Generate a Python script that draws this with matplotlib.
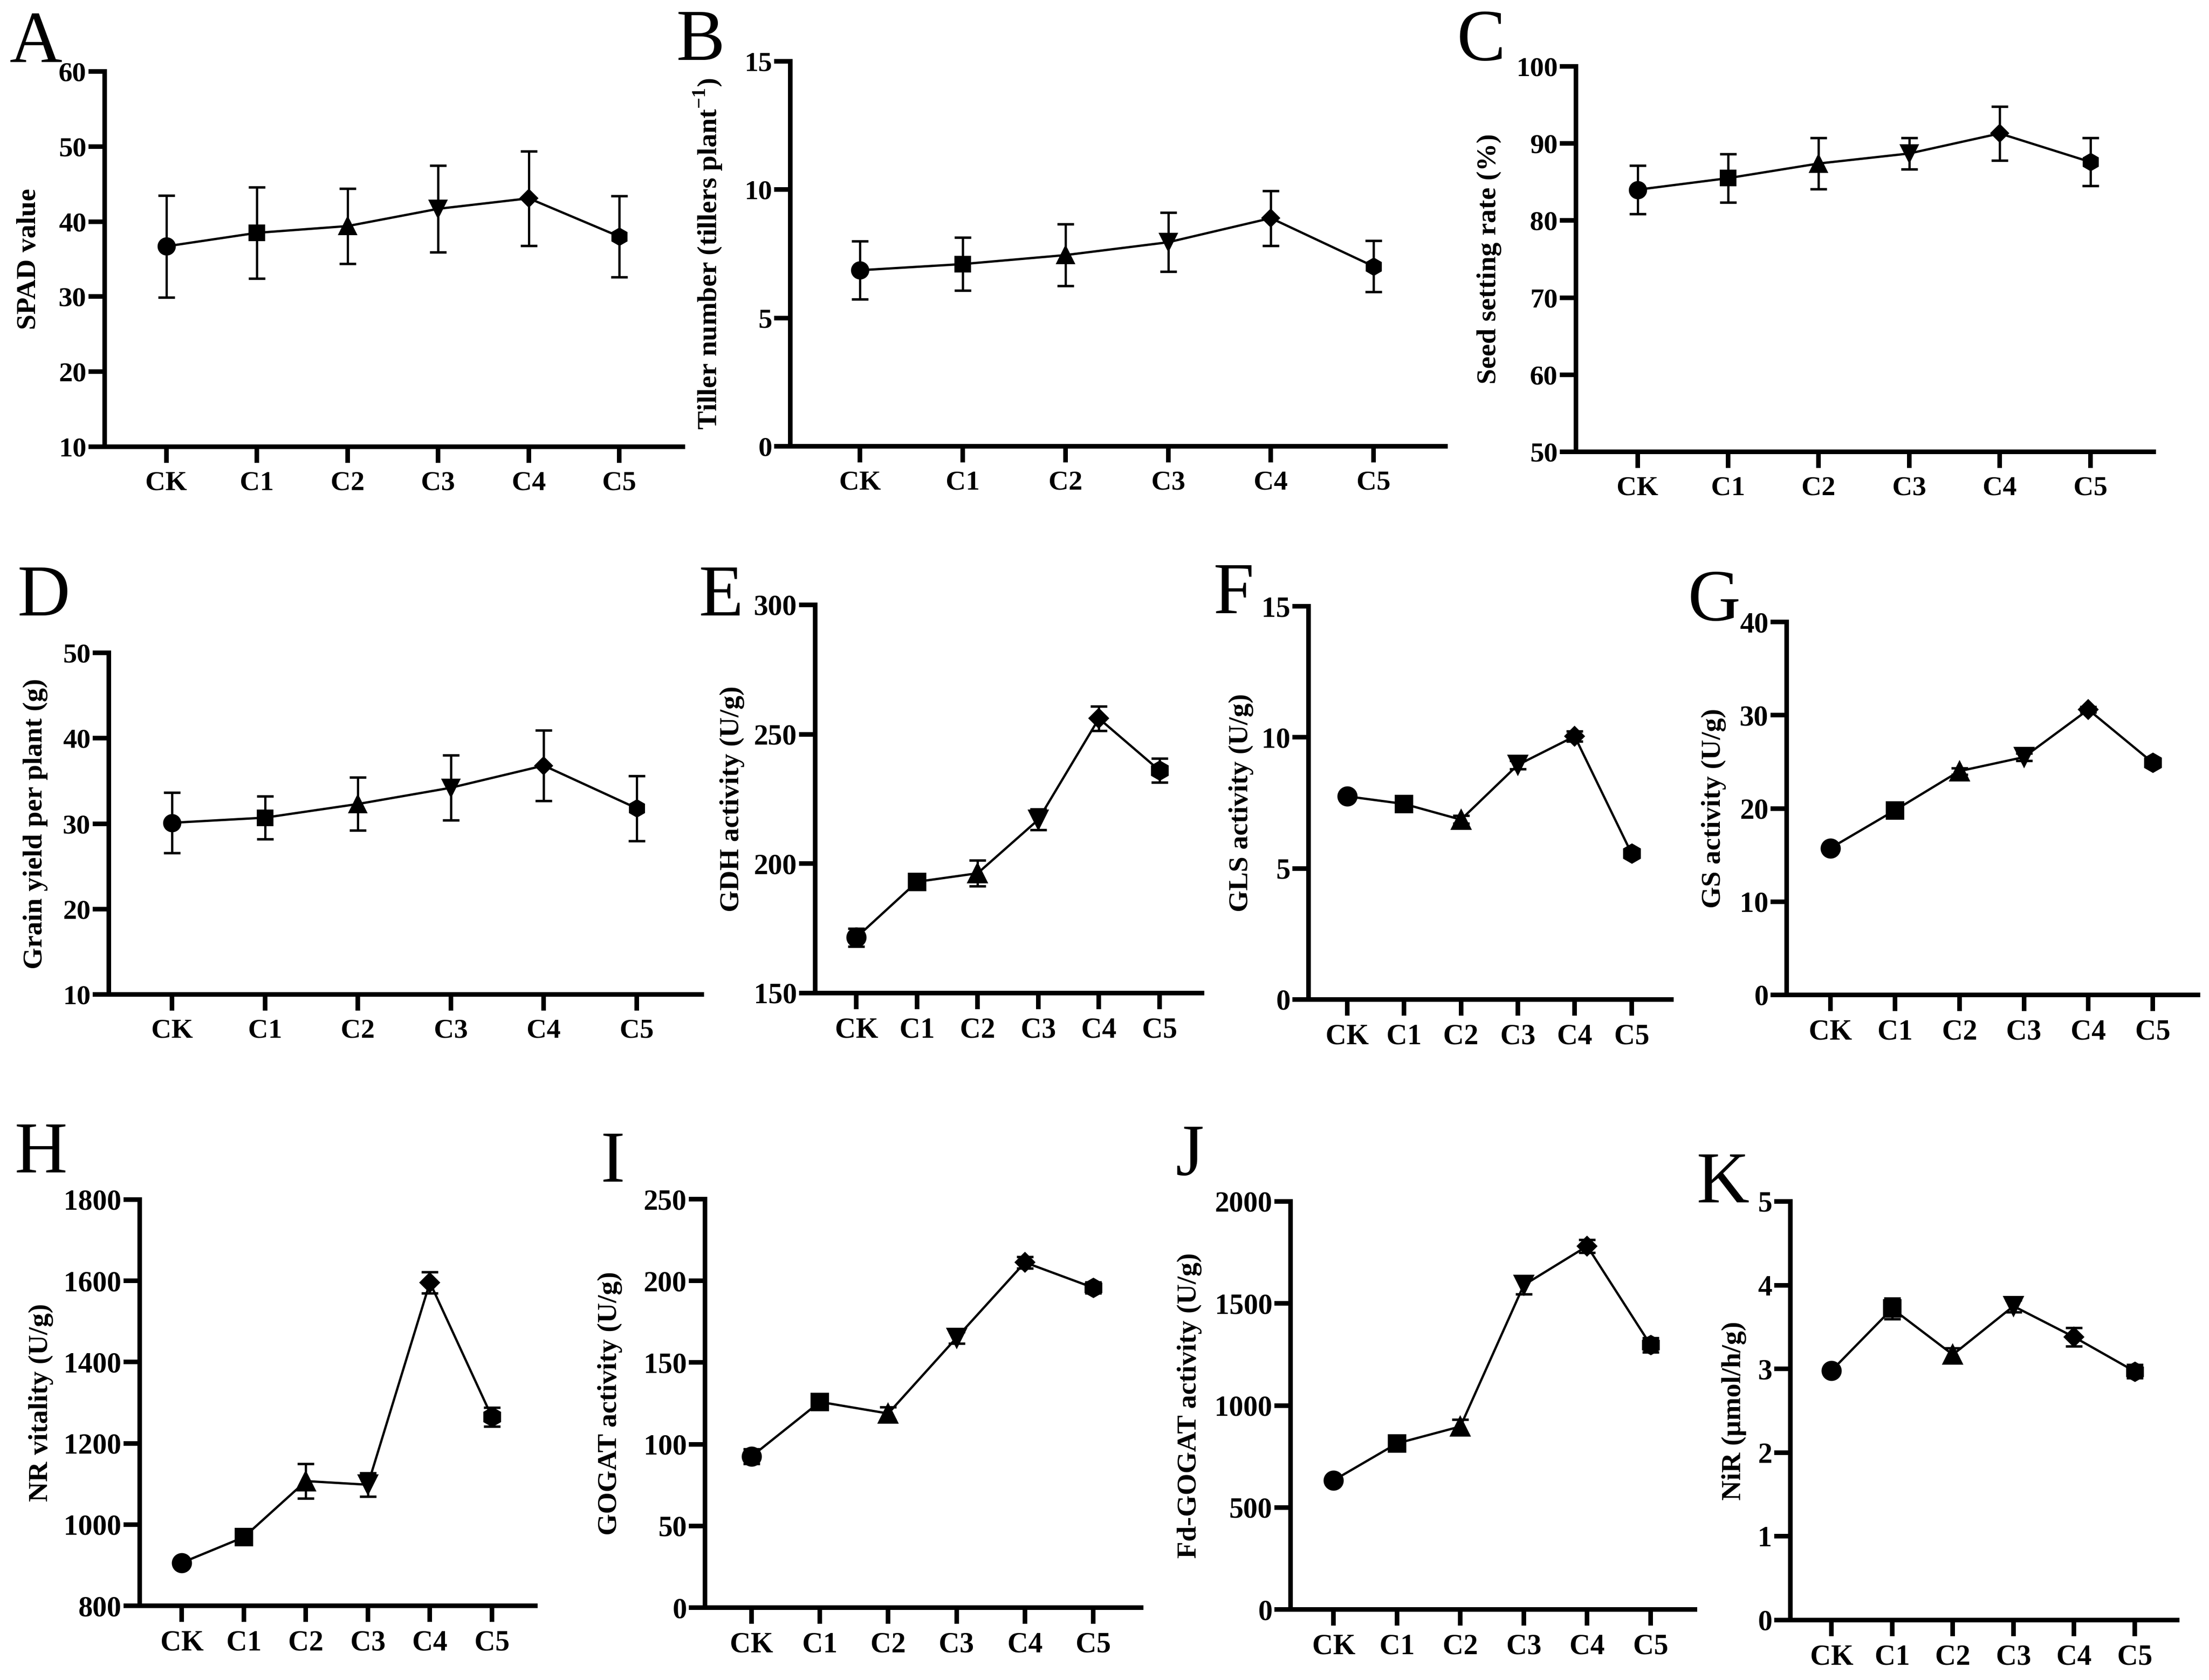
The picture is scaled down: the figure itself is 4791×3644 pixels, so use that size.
import numpy as np
import matplotlib
matplotlib.use('Agg')
import matplotlib.pyplot as plt

plt.rcParams['font.family'] = ['Liberation Serif', 'DejaVu Serif']
plt.rcParams['mathtext.fontset'] = 'custom'
plt.rcParams['mathtext.rm'] = 'Liberation Serif:bold'
plt.rcParams['mathtext.bf'] = 'Liberation Serif:bold'

groups = ['CK', 'C1', 'C2', 'C3', 'C4', 'C5']
markers = ['o', 's', '^', 'v', 'D', 'h']

# means and error bars
spad = [36.7, 38.5, 39.4, 41.7, 43.1, 38.0]
spad_err = [6.8, 6.1, 5.0, 5.75, 6.3, 5.4]
tiller = [6.86, 7.10, 7.45, 7.95, 8.89, 7.01]
tiller_err = [1.13, 1.03, 1.2, 1.15, 1.07, 1.0]
seed = [84.0, 85.5, 87.4, 88.7, 91.3, 87.6]
seed_err = [3.15, 3.15, 3.3, 2.05, 3.5, 3.1]
grain = [30.1, 30.7, 32.3, 34.2, 36.8, 31.8]
grain_err = [3.55, 2.5, 3.1, 3.8, 4.15, 3.8]
gdh = [171.5, 193.0, 196.3, 217.0, 256.1, 236.0]
gdh_err = [3.5, 1.5, 5.0, 4.0, 4.7, 4.6]
gls = [7.75, 7.46, 6.86, 8.95, 10.04, 5.57]
gls_err = [0.1, 0.1, 0.15, 0.16, 0.2, 0.1]
gs = [15.74, 19.8, 24.0, 25.5, 30.6, 24.9]
gs_err = [0.3, 0.3, 0.35, 0.4, 0.3, 0.3]
nr = [906, 969, 1107, 1098, 1596, 1265]
nr_err = [10, 10, 43, 29, 26, 23]
gogat = [92.5, 125.9, 118.8, 165.2, 211.3, 195.8]
gogat_err = [4.5, 2.0, 4.0, 3.5, 3.5, 3.3]
fdgogat = [633, 814, 897, 1590, 1781, 1297]
fdgogat_err = [20, 15, 35, 45, 32, 35]
nir = [2.98, 3.72, 3.17, 3.75, 3.38, 2.97]
nir_err = [0.05, 0.125, 0.08, 0.07, 0.11, 0.08]

W, H = 4791, 3644
fig = plt.figure(figsize=(W / 300, H / 300), dpi=300)

def box(x0, x1, ytop, ybot):
    return [x0 / W, 1 - ybot / H, (x1 - x0) / W, (ybot - ytop) / H]

def panel(pos, vals, errs, ylab, yticks, labx, letter, letpos, ms=8.5, fs=15):
    x0, x1, ytop, ybot = pos
    ax = fig.add_axes(box(x0, x1, ytop, ybot))
    x = np.arange(len(groups))
    ax.plot(x, vals, '-', color='k', lw=1.2, zorder=2)
    scale = {'o': 1.0, 's': 0.9, '^': 1.0, 'v': 1.0, 'D': 0.72, 'h': 1.0}
    for i in range(len(groups)):
        ax.errorbar(x[i], vals[i], yerr=errs[i], fmt=markers[i], color='k',
                    ms=ms * scale[markers[i]], elinewidth=1.2, capsize=4.3,
                    capthick=1.3, zorder=3, clip_on=False)
    ax.set_xlim(-0.68, 5.7)
    ax.set_ylim(yticks[0], yticks[-1])
    ax.set_yticks(yticks)
    ax.set_xticks(x)
    ax.set_xticklabels(groups)
    for s in ['top', 'right']:
        ax.spines[s].set_visible(False)
    for s in ['left', 'bottom']:
        ax.spines[s].set_linewidth(2.4)
    ax.tick_params(axis='both', length=8.5, width=2.4, labelsize=fs)
    ax.tick_params(axis='y', pad=1)
    ax.tick_params(axis='x', pad=4)
    for t in ax.get_xticklabels() + ax.get_yticklabels():
        t.set_fontweight('bold')
    ax.set_ylabel(ylab, fontsize=14.5, fontweight='bold')
    ax.yaxis.set_label_coords((labx - x0) / (x1 - x0), 0.5)
    fig.text(letpos[0] / W, 1 - letpos[1] / H, letter, fontsize=38,
             ha='left', va='baseline')
    return ax

panel((227, 1481, 155, 969), spad, spad_err, 'SPAD value',
      [10, 20, 30, 40, 50, 60], 90, 'A', (20, 133), fs=14.5)
panel((1714, 3135, 133, 968), tiller, tiller_err,
      r'Tiller number (tillers plant$^{-1}$)', [0, 5, 10, 15], 1570, 'B', (1466, 130), fs=14.5)
panel((3418, 4671, 144, 980), seed, seed_err, 'Seed setting rate (%)',
      [50, 60, 70, 80, 90, 100], 3257, 'C', (3159, 130), fs=14.5)
panel((236, 1522, 1416, 2157), grain, grain_err, 'Grain yield per plant (g)',
      [10, 20, 30, 40, 50], 104, 'D', (37, 1335), fs=14.5)
panel((1768, 2607, 1312, 2154), gdh, gdh_err, 'GDH activity (U/g)',
      [150, 200, 250, 300], 1615, 'E', (1515, 1335), ms=9.5)
panel((2838, 3625, 1315, 2168), gls, gls_err, 'GLS activity (U/g)',
      [0, 5, 10, 15], 2719, 'F', (2631, 1330), ms=9.5)
panel((3875, 4767, 1349, 2158), gs, gs_err, 'GS activity (U/g)',
      [0, 10, 20, 30, 40], 3744, 'G', (3661, 1345), ms=9.5)
panel((303, 1161, 2602, 3483), nr, nr_err, 'NR vitality (U/g)',
      [800, 1000, 1200, 1400, 1600, 1800], 116, 'H', (32, 2543), ms=9.5)
panel((1529, 2475, 2601, 3487), gogat, gogat_err, 'GOGAT activity (U/g)',
      [0, 50, 100, 150, 200, 250], 1350, 'I', (1302, 2563), ms=9.5)
panel((2799, 3676, 2606, 3491), fdgogat, fdgogat_err, 'Fd-GOGAT activity (U/g)',
      [0, 500, 1000, 1500, 2000], 2607, 'J', (2550, 2548), ms=9.5)
panel((3883, 4722, 2606, 3514), nir, nir_err, 'NiR (μmol/h/g)',
      [0, 1, 2, 3, 4, 5], 3788, 'K', (3679, 2608), ms=9.5)

plt.savefig('out.png', dpi=300)
